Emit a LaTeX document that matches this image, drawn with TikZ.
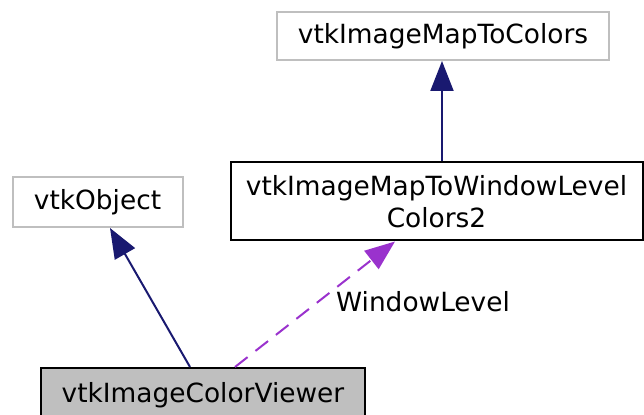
\documentclass[tikz,border=0pt]{standalone}
\usepackage{fontspec}
\setmainfont{DejaVu Sans}
\usetikzlibrary{arrows.meta}
\definecolor{edgeB}{RGB}{25,25,112}
\definecolor{edgeP}{RGB}{154,50,205}
\definecolor{boxG}{RGB}{191,191,191}

\begin{document}
\begin{tikzpicture}[x=0.5pt,y=-0.5pt,
  cls/.style={draw=boxG,line width=1pt,fill=white,inner sep=0pt,font=\fontsize{13.2}{16}\selectfont,align=center},
  inh/.style={-{Triangle[length=15pt,width=11.5pt]},line width=1pt,edgeB},
  usage/.style={-{Triangle[length=15pt,width=11.5pt]},line width=1pt,edgeP,dash pattern=on 8pt off 5pt}]
\useasboundingbox (0,0) rectangle (644,415);
% classes
\node[cls,minimum width=166pt,minimum height=24pt] (colors) at (443,36) {vtkImageMapToColors};
\node[cls,draw=black,minimum width=206pt,minimum height=39pt] (wl) at (436.5,201.5) {vtkImageMapToWindowLevel\\Colors2};
\node[cls,minimum width=85pt,minimum height=25pt] (obj) at (97.5,202) {vtkObject};
\node[cls,draw=black,fill=boxG,minimum width=162pt,minimum height=27pt] (viewer) at (203,395) {vtkImageColorViewer};
% inheritance
\draw[inh] ([xshift=2.75pt]wl.north) -- ([xshift=-0.5pt]colors.south);
\draw[inh] ([xshift=-6.5pt]viewer.north) -- ([xshift=6.25pt]obj.south);
% usage
\draw[usage] ([xshift=16pt]viewer.north) -- ([xshift=-20.75pt]wl.south);
\node[font=\fontsize{13.2}{16}\selectfont] (lbl) at (423,302) {WindowLevel};
\end{tikzpicture}
\end{document}
